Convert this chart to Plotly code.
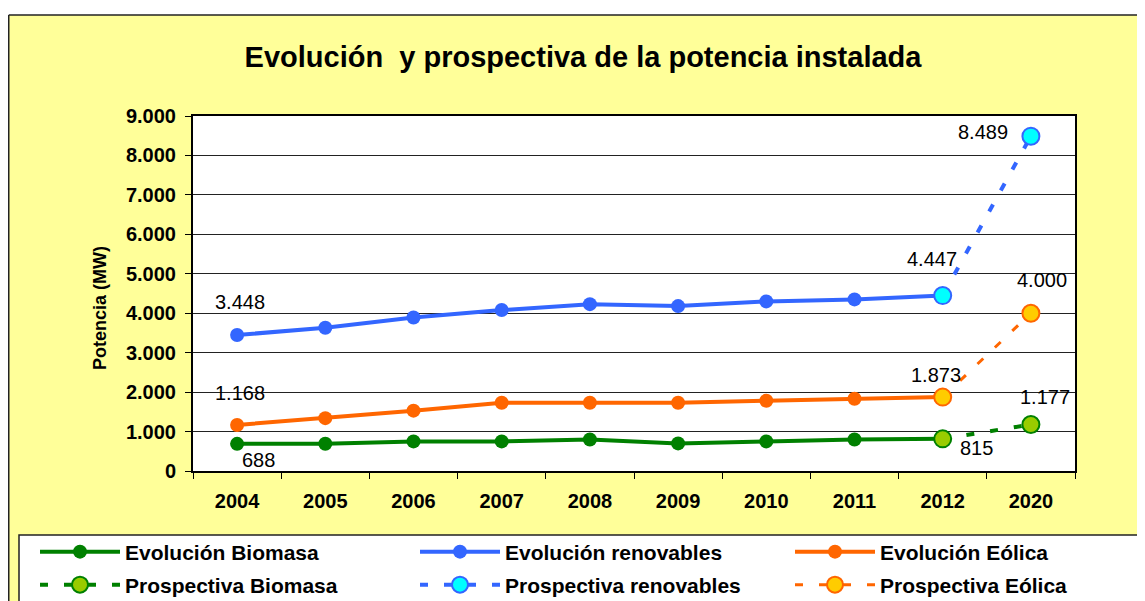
import plotly.graph_objects as go

# ---------------- data ----------------
years = ['2004', '2005', '2006', '2007', '2008', '2009', '2010', '2011', '2012', '2020']
evo_years = years[:9]
pro_years = ['2012', '2020']

renov_evo = [3448, 3630, 3890, 4080, 4230, 4180, 4300, 4350, 4447]
eolica_evo = [1168, 1340, 1530, 1730, 1730, 1730, 1780, 1830, 1873]
biomasa_evo = [688, 690, 750, 750, 800, 700, 750, 800, 815]

renov_pro = [4447, 8489]
eolica_pro = [1873, 4000]
biomasa_pro = [815, 1177]

y_ticks = [0, 1000, 2000, 3000, 4000, 5000, 6000, 7000, 8000, 9000]

title_text = 'Evolución \u00a0y prospectiva de la potencia instalada'
y_title = 'Potencia (MW)'

# ---------------- style ----------------
OFF = 8                                   # page body margin
W, H = 1145 - OFF, 601 - OFF
L, R, T, B = 193 - OFF, 1075 - OFF, 116 - OFF, 471 - OFF   # plot area in figure px
PW, PH = R - L, B - T
FONT = 'Liberation Sans, Arial, sans-serif'

GREEN, BLUE, ORANGE = '#008000', '#3366FF', '#FF6600'
GREEN_L, BLUE_L, ORANGE_L = '#99CC00', '#00FFFF', '#FFCC00'


def px_x(x):
    """reference page x -> paper x"""
    return (x - OFF - L) / PW


def px_y(y):
    """reference page y -> paper y"""
    return (B - (y - OFF)) / PH


def fmt(v):
    return f'{v:,}'.replace(',', '.')


fig = go.Figure()

series = [
    ('Evolución Biomasa', biomasa_evo, GREEN, 'legend'),
    ('Evolución renovables', renov_evo, BLUE, 'legend2'),
    ('Evolución Eólica', eolica_evo, ORANGE, 'legend3'),
]
for name, vals, col, lg in series:
    fig.add_trace(go.Scatter(
        x=evo_years, y=vals, name=name, mode='lines+markers',
        line=dict(color=col, width=4),
        marker=dict(color=col, size=14),
        legend=lg, hoverinfo='x+y'))

pro_series = [
    ('Prospectiva Biomasa', biomasa_pro, GREEN, GREEN_L, 4, 'legend4'),
    ('Prospectiva renovables', renov_pro, BLUE, BLUE_L, 4, 'legend5'),
    ('Prospectiva Eólica', eolica_pro, ORANGE, ORANGE_L, 3, 'legend6'),
]
for name, vals, col, fill, lw, lg in pro_series:
    fig.add_trace(go.Scatter(
        x=pro_years, y=vals, name=name, mode='lines+markers',
        line=dict(color=col, width=lw, dash='8px,16px'),
        marker=dict(color=fill, size=17, line=dict(color=col, width=2)),
        legend=lg, hoverinfo='x+y'))

# ---------------- data labels ----------------
label_points = [
    (0, renov_evo[0], 3, 33),
    (0, eolica_evo[0], 3, 32),
    (0, biomasa_evo[0], 21, -16),
    (8, renov_evo[8], -11, 37),
    (8, eolica_evo[8], -7, 22),
    (8, biomasa_evo[8], 34, -9),
    (9, renov_pro[1], -48, 4),
    (9, eolica_pro[1], 11, 33),
    (9, biomasa_pro[1], 14, 28),
]
for xi, yv, dx, dy in label_points:
    fig.add_annotation(x=xi, y=yv, xref='x', yref='y', text=fmt(yv), showarrow=False,
                       xshift=dx, yshift=dy, xanchor='center', yanchor='middle',
                       font=dict(family=FONT, size=20, color='#000000'))

# y axis title
fig.add_annotation(x=px_x(100), y=px_y(308), xref='paper', yref='paper',
                   text=y_title, showarrow=False, textangle=-90,
                   xanchor='center', yanchor='middle',
                   font=dict(family=FONT, size=18, color='#000000', weight='bold'))

# ---------------- background shapes ----------------
shapes = [
    # white strip on top
    dict(type='rect', xref='paper', yref='paper', x0=px_x(-20), x1=px_x(1200),
         y0=px_y(15), y1=px_y(-20), fillcolor='white', line=dict(width=0), layer='below'),
    # outer border
    dict(type='line', xref='paper', yref='paper', x0=px_x(OFF + 0.75), x1=px_x(1200),
         y0=px_y(15), y1=px_y(15), line=dict(color='#222222', width=1.5)),
    dict(type='line', xref='paper', yref='paper', x0=px_x(OFF + 0.75), x1=px_x(OFF + 0.75),
         y0=px_y(15), y1=px_y(620), line=dict(color='#222222', width=1.5)),
    # legend box
    dict(type='rect', xref='paper', yref='paper', x0=px_x(19), x1=px_x(1200),
         y0=px_y(620), y1=px_y(535), fillcolor='white',
         line=dict(color='#222222', width=1.5), layer='below'),
]

# ---------------- legends ----------------
leg_font = dict(family=FONT, size=21, color='#000000', weight='bold')
col_x = [35, 415, 790]
row_y = [552, 585]
names = ['legend', 'legend2', 'legend3', 'legend4', 'legend5', 'legend6']
legends = {}
for i, nm in enumerate(names):
    legends[nm] = dict(bgcolor='rgba(0,0,0,0)', borderwidth=0, itemwidth=80,
                       xanchor='left', yanchor='middle', font=leg_font,
                       x=px_x(col_x[i % 3]), y=px_y(row_y[i // 3]))

fig.update_layout(
    width=W, height=H,
    margin=dict(l=L, r=W - R, t=T, b=H - B, autoexpand=False),
    paper_bgcolor='#FFFF99', plot_bgcolor='#FFFFFF',
    separators=',.',
    showlegend=True,
    title=dict(text=title_text, x=(583 - OFF) / W, y=1 - (57 - OFF) / H,
               xref='container', yref='container', xanchor='center', yanchor='middle',
               font=dict(family=FONT, size=29, color='#000000', weight='bold')),
    shapes=shapes,
    font=dict(family=FONT, color='#000000'),
    **legends,
)

tick_font = dict(family=FONT, size=20, color='#000000', weight='bold')
fig.update_xaxes(type='category', categoryorder='array', categoryarray=years,
                 range=[-0.5, len(years) - 0.5],
                 showline=True, linecolor='#000000', linewidth=2, mirror=True,
                 ticks='outside', tickson='boundaries', ticklen=6, tickcolor='#000000',
                 showgrid=False, ticklabelstandoff=11, tickfont=tick_font)
fig.update_yaxes(range=[0, 9000], tickvals=y_ticks, tickformat=',.0f',
                 showline=True, linecolor='#000000', linewidth=2, mirror=True,
                 ticks='outside', ticklen=6, tickcolor='#000000',
                 showgrid=True, gridcolor='#222222', gridwidth=1, zeroline=False,
                 ticklabelstandoff=5, tickfont=tick_font)

fig.write_html('out.html')
